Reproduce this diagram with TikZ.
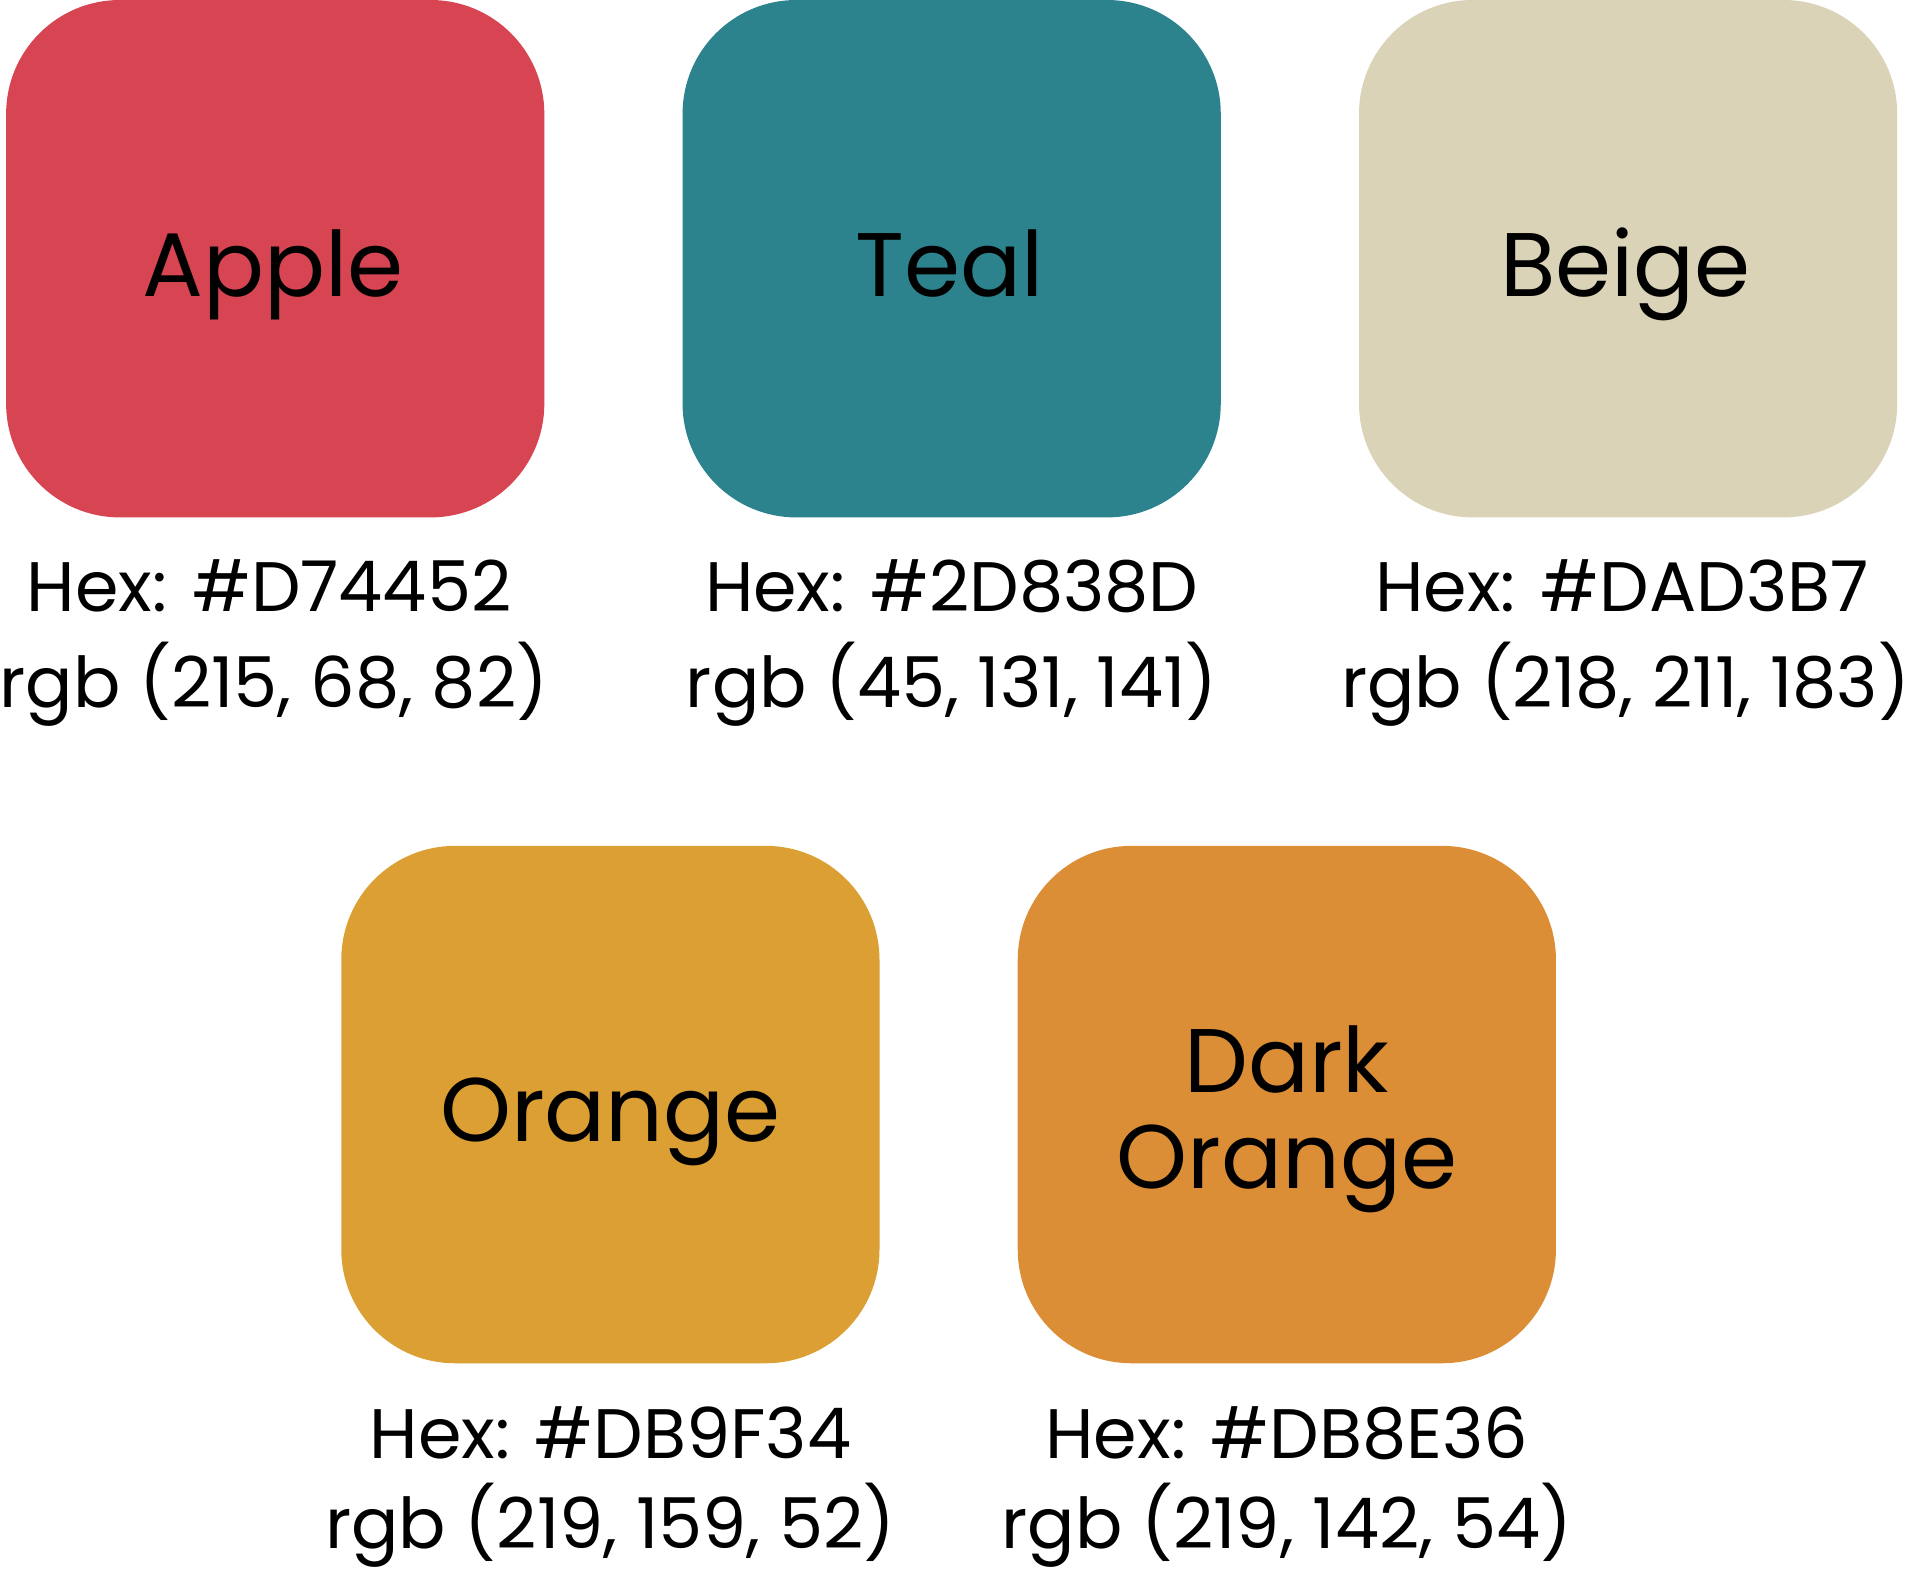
\documentclass[tikz,border=0pt]{standalone}
\usepackage{fontspec}
\setmainfont{Poppins}
\definecolor{apple}{HTML}{D74452}
\definecolor{teal}{HTML}{2D838D}
\definecolor{beige}{HTML}{DAD3B7}
\definecolor{orange}{HTML}{DB9F34}
\definecolor{darkorange}{HTML}{DB8E36}
\tikzset{
  swatch/.style={minimum width=4.4cm, minimum height=4.23cm, rounded corners=0.93cm, inner sep=0pt, fill=#1},
  cname/.style={anchor=base, font=\fontsize{21}{26}\selectfont},
  cval/.style={anchor=base, font=\fontsize{16.3}{20}\selectfont}
}
\begin{document}
\begin{tikzpicture}
\useasboundingbox (0,0) rectangle (15.68,-12.82);
\node[swatch=apple] (apple) at (2.25,-2.115) {};
\node[swatch=teal] (teal) at (7.78,-2.115) {};
\node[swatch=beige] (beige) at (13.31,-2.115) {};
\node[swatch=orange] (orange) at (4.99,-9.03) {};
\node[swatch=darkorange] (darkorange) at (10.52,-9.03) {};
\node[cname] (applename) at (2.23,-2.42) {Apple};
\node[cname] (tealname) at (7.76,-2.42) {Teal};
\node[cname] (beigename) at (13.29,-2.42) {Beige};
\node[cname] (orangename) at (4.99,-9.33) {Orange};
\node[cname] (darkname) at (10.52,-8.93) {Dark};
\node[cname] (darkname2) at (10.52,-9.72) {Orange};
\node[cval] (applehex) at (2.2,-5.00) {Hex: \#D74452};
\node[cval] (applergb) at (2.24,-5.78) {rgb (215, 68, 82)};
\node[cval] (tealhex) at (7.78,-5.00) {Hex: \#2D838D};
\node[cval] (tealrgb) at (7.78,-5.78) {rgb (45, 131, 141)};
\node[cval] (beigehex) at (13.26,-5.00) {Hex: \#DAD3B7};
\node[cval] (beigergb) at (13.29,-5.78) {rgb (218, 211, 183)};
\node[cval] (orangehex) at (4.99,-11.92) {Hex: \#DB9F34};
\node[cval] (orangergb) at (4.99,-12.66) {rgb (219, 159, 52)};
\node[cval] (darkhex) at (10.52,-11.92) {Hex: \#DB8E36};
\node[cval] (darkrgb) at (10.52,-12.66) {rgb (219, 142, 54)};
\end{tikzpicture}
\end{document}
